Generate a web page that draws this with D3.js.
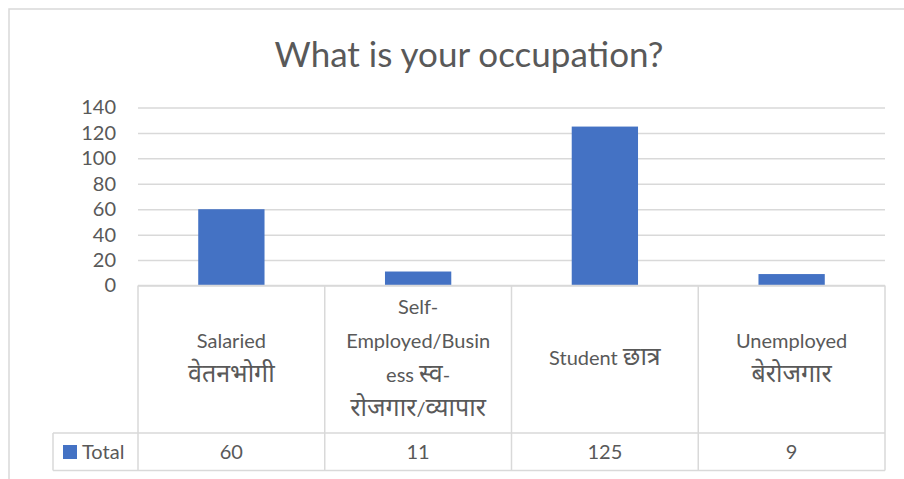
<!DOCTYPE html>
<html>
<head>
<meta charset="utf-8">
<script src="https://cdn.jsdelivr.net/npm/d3@7"></script>
<style>
  body { margin: 0; background: #fff; }
  text { font-family: Lato, "Noto Sans", sans-serif; fill: #595959; }
</style>
</head>
<body>
<script>
var title = "What is your occupation?";
var categories = ["Salaried", "Self-Employed", "Student", "Unemployed"];
var categoryLines = [
  ["Salaried", "वेतनभोगी"],
  ["Self-", "Employed/Busin", "ess स्व-", "रोजगार/व्यापार"],
  ["Student छात्र"],
  ["Unemployed", "बेरोजगार"]
];
var totals = [60, 11, 125, 9];
var seriesName = "Total";
var yTicks = [0, 20, 40, 60, 80, 100, 120, 140];

var W = 904, H = 479;
var plot = {left: 138, right: 885, top: 107.5, bottom: 285.5};
var tableTop = 285.5, rowSep = 433, tableBottom = 470.5, legendLeft = 53;
var grey = "#d9d9d9", blue = "#4472c4";

var svg = d3.select("body").append("svg")
    .attr("width", W)
    .attr("height", H);

// chart area border
svg.append("path")
    .attr("d", "M9,480 V9 H910")
    .attr("fill", "none")
    .attr("stroke", grey)
    .attr("stroke-width", 1.5);

svg.append("text")
    .attr("x", 469)
    .attr("y", 67)
    .attr("text-anchor", "middle")
    .style("font-size", "35px")
    .text(title);

var x = d3.scaleBand()
    .domain(categories)
    .range([plot.left, plot.right])
    .padding(0);
var y = d3.scaleLinear()
    .domain([0, 140])
    .range([plot.bottom, plot.top]);

// gridlines + tick labels
var yAxis = svg.append("g")
    .attr("transform", "translate(" + plot.left + ",0)")
    .call(d3.axisLeft(y).tickValues(yTicks).tickSize(-(plot.right - plot.left)).tickPadding(22));
yAxis.select(".domain").remove();
yAxis.selectAll(".tick line").attr("stroke", grey).attr("stroke-width", 1.5);
yAxis.selectAll(".tick text")
    .style("font-size", "20px")
    .style("font-family", "Lato, sans-serif")
    .attr("fill", "#595959");

var barW = x.bandwidth() * 0.355;
svg.selectAll(".bar")
    .data(totals)
    .enter().append("rect")
    .attr("class", "bar")
    .attr("x", function(d, i) { return x(categories[i]) + (x.bandwidth() - barW) / 2; })
    .attr("width", barW)
    .attr("y", function(d) { return y(d); })
    .attr("height", function(d) { return y(0) - y(d); })
    .attr("fill", blue);

// data table
var tbl = svg.append("g").attr("stroke", grey).attr("stroke-width", 1.5).attr("fill", "none");
tbl.append("line").attr("x1", plot.left).attr("x2", plot.right).attr("y1", tableTop).attr("y2", tableTop);
tbl.append("line").attr("x1", legendLeft).attr("x2", plot.right).attr("y1", rowSep).attr("y2", rowSep);
tbl.append("line").attr("x1", legendLeft).attr("x2", plot.right).attr("y1", tableBottom).attr("y2", tableBottom);
tbl.append("line").attr("x1", legendLeft).attr("x2", legendLeft).attr("y1", rowSep).attr("y2", tableBottom);
var edges = categories.map(function(c) { return x(c); }).concat([plot.right]);
tbl.selectAll(".vline")
    .data(edges)
    .enter().append("line")
    .attr("x1", function(d) { return d; })
    .attr("x2", function(d) { return d; })
    .attr("y1", tableTop)
    .attr("y2", tableBottom);

// split a line into latin / devanagari runs so the devanagari can be sized up
function runs(s) {
  return s.match(/[\u0900-\u097F]+|[^\u0900-\u097F]+/g);
}

var lineH = 34, labelMid = 358;
categoryLines.forEach(function(lines, i) {
  var cx = x(categories[i]) + x.bandwidth() / 2;
  var t = svg.append("text")
      .attr("text-anchor", "middle")
      .style("font-size", "20px");
  lines.forEach(function(s, j) {
    var ln = t.append("tspan")
        .attr("x", cx)
        .attr("y", labelMid + (j - (lines.length - 1) / 2) * lineH + 7);
    runs(s).forEach(function(r) {
      var sp = ln.append("tspan").text(r);
      if (/[\u0900-\u097F]/.test(r)) sp.style("font-size", "25px");
    });
  });
});

svg.selectAll(".val")
    .data(totals)
    .enter().append("text")
    .attr("class", "val")
    .attr("x", function(d, i) { return x(categories[i]) + x.bandwidth() / 2; })
    .attr("y", 459)
    .attr("text-anchor", "middle")
    .style("font-size", "20px")
    .text(function(d) { return d; });

svg.append("rect")
    .attr("x", 63).attr("y", 445).attr("width", 14).attr("height", 14)
    .attr("fill", blue);
svg.append("text")
    .attr("x", 82).attr("y", 459)
    .style("font-size", "20px")
    .text(seriesName);
</script>
</body>
</html>
